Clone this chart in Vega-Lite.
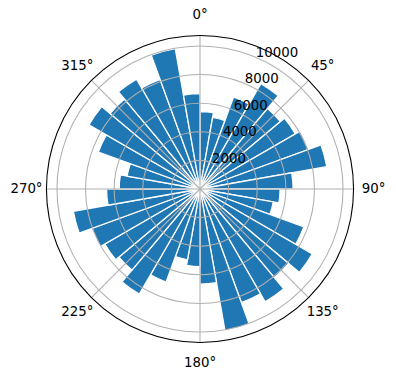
{
  "$schema": "https://vega.github.io/schema/vega-lite/v6.json",
  "width": 392,
  "height": 378,
  "autosize": "none",
  "padding": {"left": 4, "top": 0, "right": 0, "bottom": 2},
  "config": {"view": {"stroke": null}, "font": "DejaVu Sans"},
  "datasets": {
    "bars": [
      {"angle": 0, "value": 5415}, {"angle": 10, "value": 5090}, {"angle": 20, "value": 6850},
      {"angle": 30, "value": 8510}, {"angle": 40, "value": 7340}, {"angle": 50, "value": 7700},
      {"angle": 60, "value": 8080}, {"angle": 70, "value": 9000}, {"angle": 80, "value": 6510},
      {"angle": 90, "value": 5600}, {"angle": 100, "value": 5200}, {"angle": 110, "value": 7730},
      {"angle": 120, "value": 9070}, {"angle": 130, "value": 8090}, {"angle": 140, "value": 9110},
      {"angle": 150, "value": 8450}, {"angle": 160, "value": 10050}, {"angle": 170, "value": 6650},
      {"angle": 180, "value": 5420}, {"angle": 190, "value": 5030}, {"angle": 200, "value": 6920},
      {"angle": 210, "value": 8480}, {"angle": 220, "value": 7400}, {"angle": 230, "value": 7690},
      {"angle": 240, "value": 8040}, {"angle": 250, "value": 8990}, {"angle": 260, "value": 6530},
      {"angle": 270, "value": 5650}, {"angle": 280, "value": 5180}, {"angle": 290, "value": 7560},
      {"angle": 300, "value": 8970}, {"angle": 310, "value": 8210}, {"angle": 320, "value": 8870},
      {"angle": 330, "value": 8150}, {"angle": 340, "value": 9960}, {"angle": 350, "value": 6660}
    ],
    "rings": [{"v": 2000}, {"v": 4000}, {"v": 6000}, {"v": 8000}, {"v": 10000}],
    "spokes": [
      {"deg": 0, "label": "0°"}, {"deg": 45, "label": "45°"}, {"deg": 90, "label": "90°"},
      {"deg": 135, "label": "135°"}, {"deg": 180, "label": "180°"}, {"deg": 225, "label": "225°"},
      {"deg": 270, "label": "270°"}, {"deg": 315, "label": "315°"}
    ]
  },
  "layer": [
    {
      "data": {"name": "bars"},
      "mark": {"type": "arc", "fill": "#1f77b4", "stroke": "white", "strokeWidth": 1.3},
      "encoding": {
        "theta": {"field": "angle", "type": "quantitative", "bin": {"step": 10, "extent": [0, 360]}, "stack": null, "scale": {"domain": [0, 360], "range": [0, 6.283185307179586]}},
        "radius": {"field": "value", "type": "quantitative", "stack": null, "scale": {"type": "linear", "domain": [0, 10730], "range": [0, 153.5], "zero": true}}
      }
    },
    {
      "data": {"name": "rings"},
      "mark": {"type": "arc", "theta": 0, "theta2": 6.283185307179586, "fill": null, "fillOpacity": 0, "stroke": "#b0b0b0", "strokeWidth": 1.07},
      "encoding": {
        "radius": {"field": "v", "type": "quantitative", "stack": null, "scale": {"type": "linear", "domain": [0, 10730], "range": [0, 153.5], "zero": true}}
      }
    },
    {
      "data": {"name": "spokes"},
      "mark": {"type": "arc", "fill": null, "fillOpacity": 0, "stroke": "#b0b0b0", "strokeWidth": 1.07},
      "encoding": {
        "theta": {"field": "deg", "type": "quantitative", "stack": null, "scale": {"domain": [0, 360], "range": [0, 6.283185307179586]}},
        "theta2": {"field": "deg"},
        "radius": {"datum": 10730, "type": "quantitative", "stack": null, "scale": {"type": "linear", "domain": [0, 10730], "range": [0, 153.5], "zero": true}}
      }
    },
    {
      "data": {"values": [{"edge": 10730}]},
      "mark": {"type": "arc", "theta": 0, "theta2": 6.283185307179586, "fill": null, "fillOpacity": 0, "stroke": "black", "strokeWidth": 1.07},
      "encoding": {
        "radius": {"field": "edge", "type": "quantitative", "stack": null, "scale": {"type": "linear", "domain": [0, 10730], "range": [0, 153.5], "zero": true}}
      }
    },
    {
      "data": {"name": "rings"},
      "mark": {"type": "text", "theta": 0.39269908, "align": "left", "baseline": "alphabetic", "dx": 1, "fontSize": 13.33, "font": "DejaVu Sans", "color": "black"},
      "encoding": {
        "radius": {"field": "v", "type": "quantitative", "stack": null, "scale": {"type": "linear", "domain": [0, 10730], "range": [0, 153.5], "zero": true}},
        "text": {"field": "v", "type": "quantitative", "format": "d"}
      }
    },
    {
      "data": {"name": "spokes"},
      "mark": {"type": "text", "align": "center", "baseline": "middle", "fontSize": 13.33, "font": "DejaVu Sans", "color": "black"},
      "encoding": {
        "theta": {"field": "deg", "type": "quantitative", "stack": null, "scale": {"domain": [0, 360], "range": [0, 6.283185307179586]}},
        "radius": {"datum": 12130, "type": "quantitative", "stack": null, "scale": {"type": "linear", "domain": [0, 10730], "range": [0, 153.5], "zero": true}},
        "text": {"field": "label", "type": "nominal"}
      }
    }
  ]
}
